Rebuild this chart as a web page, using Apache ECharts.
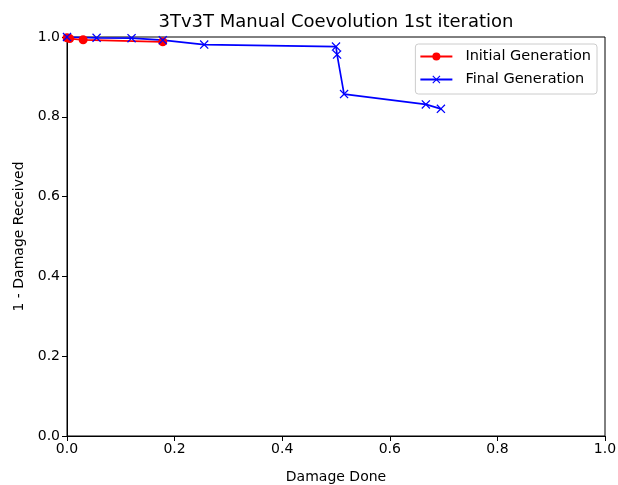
<!DOCTYPE html>
<html><head><meta charset="utf-8">
<script src="https://cdn.jsdelivr.net/npm/echarts@6/dist/echarts.min.js"></script>
<style>html,body{margin:0;padding:0;background:#fff}#c{width:618px;height:485px}</style>
</head><body><div id="c"></div>
<script>
const initialX = [0.0, 0.005, 0.03, 0.178];
const initialY = [0.998, 0.996, 0.993, 0.988];
const finalX = [0.0, 0.055, 0.12, 0.178, 0.255, 0.5, 0.502, 0.515, 0.667, 0.695];
const finalY = [1.0, 0.998, 0.997, 0.992, 0.981, 0.976, 0.956, 0.857, 0.831, 0.82];
const xTicks = [0, 0.2, 0.4, 0.6, 0.8, 1.0];
const yTicks = [0, 0.2, 0.4, 0.6, 0.8, 1.0];

const font = "'DejaVu Sans', sans-serif";
const xSym = 'path://M0,1 L1,0 L5,4 L9,0 L10,1 L6,5 L10,9 L9,10 L5,6 L1,10 L0,9 L4,5 Z';
const chart = echarts.init(document.getElementById('c'));
chart.setOption({
  animation: false,
  title: {text: '3Tv3T Manual Coevolution 1st iteration', left: 331, textAlign: 'center', top: 8,
    textStyle: {fontFamily: font, fontSize: 18, fontWeight: 'normal', color: '#000'}},
  grid: {left: 67, right: 13, top: 37, bottom: 49, show: true, borderColor: '#000', borderWidth: 1,
    outerBoundsMode: 'none', containLabel: false},
  legend: {orient: 'vertical', right: 21, top: 44, itemWidth: 32, itemHeight: 10, itemGap: 8,
    borderColor: '#ccc', borderWidth: 1, borderRadius: 3, padding: [5, 6, 7, 4],
    textStyle: {fontFamily: font, fontSize: 14.5, color: '#000', padding: [0, 0, 0, 8]},
    data: ['Initial Generation', 'Final Generation']},
  xAxis: {type: 'value', min: 0, max: 1, interval: 0.2, name: 'Damage Done', nameLocation: 'middle', nameGap: 34,
    nameTextStyle: {fontFamily: font, fontSize: 14, color: '#000'},
    axisLine: {show: true, lineStyle: {color: '#000'}}, axisTick: {show: true, length: 5, lineStyle: {color: '#000'}},
    splitLine: {show: false},
    axisLabel: {fontFamily: font, fontSize: 14, color: '#000', margin: 6, formatter: v => v.toFixed(1)}},
  yAxis: {type: 'value', min: 0, max: 1, interval: 0.2, name: '1 - Damage Received', nameLocation: 'middle', nameGap: 41,
    nameTextStyle: {fontFamily: font, fontSize: 14, color: '#000'},
    axisLine: {show: true, lineStyle: {color: '#000'}}, axisTick: {show: true, length: 5, lineStyle: {color: '#000'}},
    splitLine: {show: false},
    axisLabel: {fontFamily: font, fontSize: 14, color: '#000', margin: 7, formatter: v => v.toFixed(1)}},
  series: [
    {name: 'Initial Generation', type: 'line', data: initialX.map((x, i) => [x, initialY[i]]),
      symbol: 'circle', symbolSize: 9, showAllSymbol: true,
      lineStyle: {color: '#ff0000', width: 1.7}, itemStyle: {color: '#ff0000'}},
    {name: 'Final Generation', type: 'line', data: finalX.map((x, i) => [x, finalY[i]]),
      symbol: xSym, symbolSize: 9, showAllSymbol: true,
      lineStyle: {color: '#0000ff', width: 1.7}, itemStyle: {color: '#0000ff'}}
  ]
});
</script></body></html>
